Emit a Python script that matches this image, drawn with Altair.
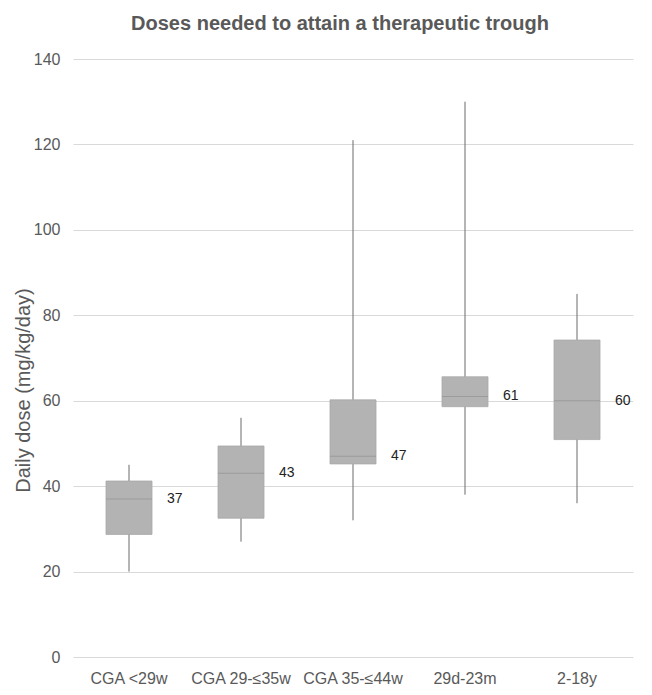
import altair as alt
import pandas as pd

categories = ["CGA <29w", "CGA 29-≤35w", "CGA 35-≤44w", "29d-23m", "2-18y"]
whisker_low = [20, 27, 32, 38, 36]
q1 = [28.7, 32.5, 45.2, 58.6, 50.9]
median = [37, 43, 47, 61, 60]
q3 = [41.2, 49.4, 60.2, 65.6, 74.2]
whisker_high = [45, 56, 121, 130, 85]

df = pd.DataFrame({
    "cat": categories,
    "lo": whisker_low,
    "q1": q1,
    "med": median,
    "q3": q3,
    "hi": whisker_high,
})

GREY_TXT = "#595959"

x = alt.X(
    "cat:N",
    sort=categories,
    title=None,
    scale=alt.Scale(paddingInner=0, paddingOuter=0),
    axis=alt.Axis(labelAngle=0, ticks=False, domain=False, grid=False,
                  labelFontSize=16, labelColor=GREY_TXT, labelPadding=13),
)
yscale = alt.Scale(domain=[0, 140])
yaxis = alt.Axis(
    values=[0, 20, 40, 60, 80, 100, 120, 140],
    grid=True, gridColor="#d9d9d9", gridWidth=1,
    domain=False, ticks=False,
    labelFontSize=16, labelColor=GREY_TXT, labelPadding=13,
    title="Daily dose (mg/kg/day)", titleFontSize=20, titleFontWeight="normal",
    titleColor=GREY_TXT, titleX=-50, titleY=331, titleAlign="center",
    titleBaseline="middle",
)

base = alt.Chart(df)

whiskers = base.mark_rule(color="#6b6b6b", strokeWidth=1).encode(
    x=x,
    y=alt.Y("lo:Q", scale=yscale, axis=yaxis),
    y2="hi:Q",
)
boxes = base.mark_bar(size=46, color="#b3b3b3", stroke="#a8a8a8", strokeWidth=0.8).encode(
    x=x,
    y=alt.Y("q1:Q", scale=yscale),
    y2="q3:Q",
)
medians = base.mark_tick(size=46, thickness=1, color="#929292").encode(
    x=x,
    y=alt.Y("med:Q", scale=yscale),
)
labels = base.mark_text(align="left", baseline="middle", dx=38, fontSize=14,
                        color="#222222").encode(
    x=x,
    y=alt.Y("med:Q", scale=yscale),
    text=alt.Text("med:Q"),
)

chart = alt.layer(whiskers, boxes, medians, labels).properties(
    width=560,
    height=598,
    autosize=alt.AutoSizeParams(type="none"),
    padding={"left": 65, "top": 51, "right": 11, "bottom": 30},
    title=alt.TitleParams(
        "Doses needed to attain a therapeutic trough",
        fontSize=20, fontWeight="bold", color=GREY_TXT,
        anchor="middle", baseline="alphabetic", offset=1, dx=-13,
    ),
).configure(font="Liberation Sans").configure_view(stroke=None)

chart.save("out.html", embed_options={"renderer": "svg", "actions": False})
